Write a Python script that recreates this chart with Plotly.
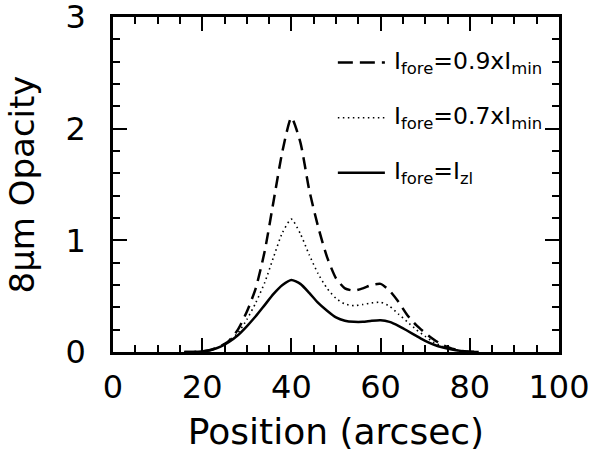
import plotly.graph_objects as go

position = [16, 18, 20, 22, 24, 26, 28, 30, 32, 34, 36, 38, 40, 42, 44, 46, 48, 50,
            52, 54, 56, 58, 60, 62, 64, 66, 68, 70, 72, 74, 76, 78, 80, 82]
opacity_zl = [0.0, 0.0, 0.005, 0.018, 0.045, 0.09, 0.15, 0.23, 0.32, 0.42, 0.52, 0.60, 0.645,
              0.61, 0.53, 0.44, 0.37, 0.31, 0.28, 0.27, 0.27, 0.28, 0.285, 0.27, 0.235, 0.19,
              0.145, 0.10, 0.065, 0.04, 0.022, 0.01, 0.003, 0.0]
opacity_07 = [0.0, 0.0, 0.005, 0.02, 0.05, 0.10, 0.17, 0.29, 0.44, 0.62, 0.85, 1.07, 1.19,
              1.06, 0.87, 0.70, 0.57, 0.48, 0.43, 0.415, 0.425, 0.44, 0.445, 0.41, 0.34, 0.27,
              0.20, 0.14, 0.085, 0.05, 0.025, 0.01, 0.003, 0.0]
opacity_09 = [0.0, 0.0, 0.005, 0.02, 0.05, 0.10, 0.20, 0.36, 0.57, 0.90, 1.35, 1.80, 2.10,
              1.88, 1.45, 1.12, 0.85, 0.66, 0.57, 0.55, 0.57, 0.60, 0.61, 0.55, 0.45, 0.33,
              0.24, 0.17, 0.11, 0.06, 0.03, 0.012, 0.003, 0.0]

labels = ["I<sub>fore</sub>=0.9xI<sub>min</sub>",
          "I<sub>fore</sub>=0.7xI<sub>min</sub>",
          "I<sub>fore</sub>=I<sub>zl</sub>"]
dashes = ["12px,7px", "1.5px,3.5px", "solid"]
key_dashes = ["15px,7px", "1.5px,3.5px", "solid"]
widths = [2.5, 1.6, 2.5]
series = [opacity_09, opacity_07, opacity_zl]

FONT = "DejaVu Sans"
L, R, T, B = 113.3, 559, 17.3, 352.3
fig = go.Figure()
for ys, d, w in zip(series, dashes, widths):
    fig.add_trace(go.Scatter(x=position, y=ys, mode="lines",
                             line=dict(color="black", width=w, dash=d, shape="spline", smoothing=0.6),
                             showlegend=False, hoverinfo="skip"))

# legend keys (paper coords)
x0, x1, xt = (338 - L) / (R - L), (385 - L) / (R - L), (392 - L) / (R - L)
key_y = [62.7, 118, 173]
for i, (lab, d, w) in enumerate(zip(labels, key_dashes, widths)):
    yp = (B - key_y[i]) / (B - T)
    fig.add_shape(type="line", xref="paper", yref="paper", x0=x0, x1=x1, y0=yp, y1=yp,
                  line=dict(color="black", width=w, dash=d))
    fig.add_annotation(xref="paper", yref="paper", x=xt, y=yp, text=lab, showarrow=False,
                       xanchor="left", yanchor="middle", font=dict(family=FONT, size=23.5, color="black"))

axis_common = dict(showline=True, linewidth=2.5, linecolor="black", mirror="allticks",
                   ticks="inside", ticklen=14, tickwidth=2, tickcolor="black",
                   showgrid=False, zeroline=False, automargin=False, ticklabeloverflow="allow",
                   tickfont=dict(family=FONT, size=32, color="black"))
fig.update_xaxes(range=[0, 100], dtick=20, tick0=0, ticklabelstandoff=5,
                 minor=dict(ticks="inside", dtick=5, ticklen=7, tickwidth=2, tickcolor="black"),
                 title=dict(text="Position (arcsec)", font=dict(family=FONT, size=36, color="black"), standoff=14),
                 **axis_common)
fig.update_yaxes(range=[0, 3], dtick=1, tick0=0, ticklabelstandoff=18,
                 minor=dict(ticks="inside", dtick=0.2, ticklen=7, tickwidth=2, tickcolor="black"),
                 title=dict(text="8μm Opacity", font=dict(family=FONT, size=34, color="black"), standoff=21),
                 **axis_common)
fig.update_layout(width=616, height=459,
                  margin=dict(l=L, r=616 - R, t=T, b=459 - B),
                  plot_bgcolor="white", paper_bgcolor="white")
fig.write_html("out.html", post_script="document.body.style.margin='0';",
               config={"displayModeBar": False})
